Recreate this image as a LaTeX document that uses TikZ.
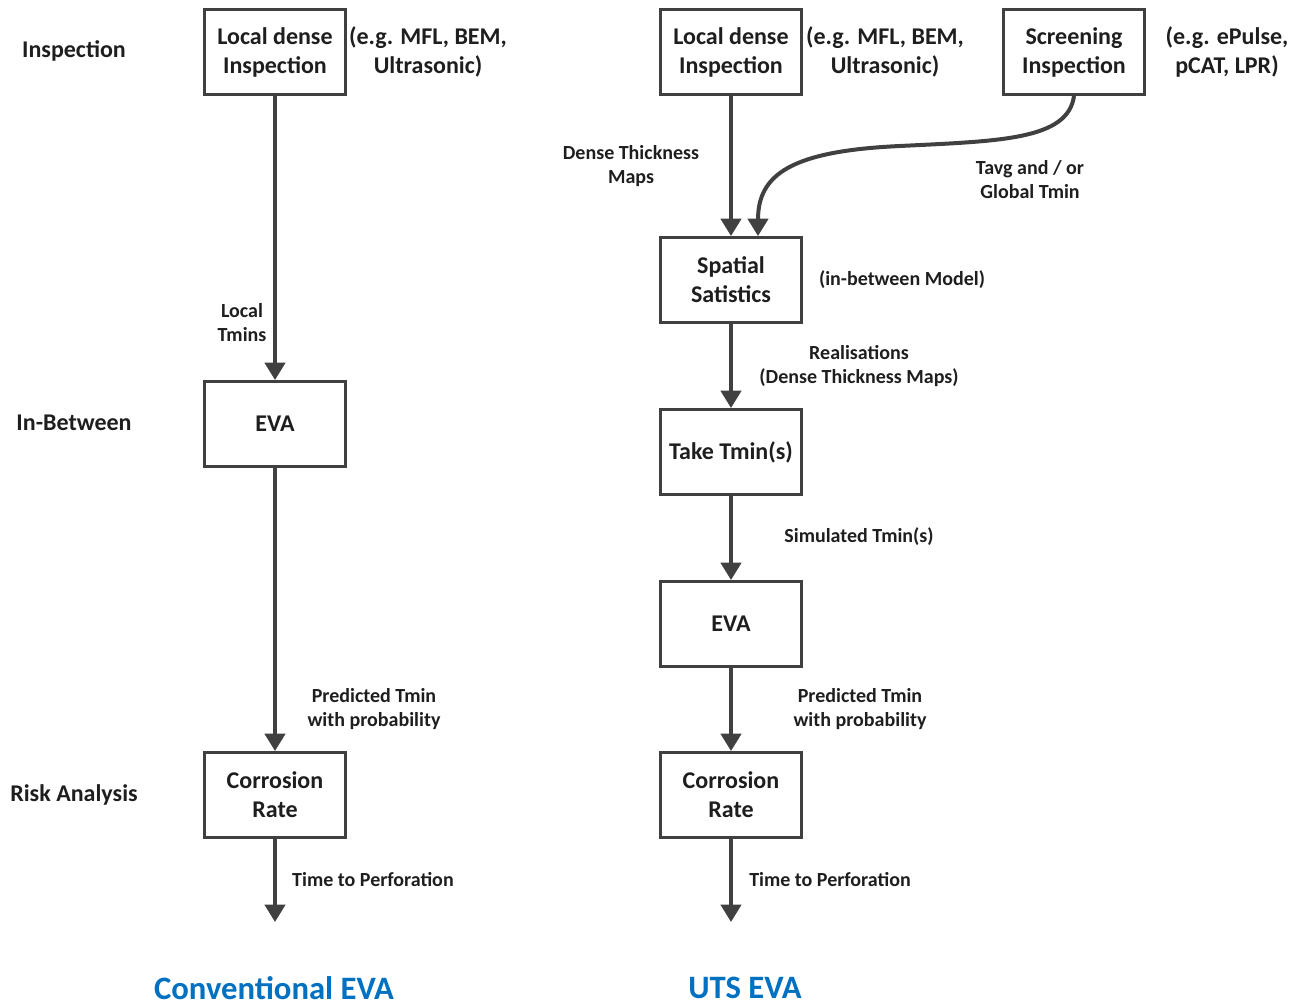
\documentclass[tikz,border=0pt]{standalone}
\usepackage{fontspec}
\setmainfont{Carlito}
\usetikzlibrary{arrows.meta,calc,shadows}
\definecolor{linegray}{HTML}{404040}
\definecolor{titleblue}{HTML}{0070C0}
\definecolor{inkgray}{HTML}{1E1E1E}
\begin{document}
\begin{tikzpicture}[x=0.75pt,y=-0.75pt,
  box/.style={draw=linegray, line width=1.9pt, fill=white,
    minimum width=106pt, minimum height=64pt, align=center, inner sep=0pt,
    font=\fontsize{18}{21.75}\selectfont\bfseries, text=inkgray,
    drop shadow={shadow xshift=1.2pt, shadow yshift=-1.2pt, fill=black!25, opacity=0.6}},
  lbl/.style={align=center, inner sep=0pt, text=inkgray,
    font=\fontsize{15}{18}\selectfont\bfseries},
  note/.style={align=center, inner sep=0pt, text=inkgray,
    font=\fontsize{18}{21.75}\selectfont\bfseries},
  rowlbl/.style={inner sep=0pt, text=inkgray,
    font=\fontsize{18}{20}\selectfont\bfseries},
  title/.style={inner sep=0pt, text=titleblue,
    font=\fontsize{24.5}{28}\selectfont\bfseries},
  flow/.style={draw=linegray, line width=3pt,
    -{Triangle[width=15pt,length=13pt]}}
]
\useasboundingbox (0,0) rectangle (1291,1007);

% row headings
\node[rowlbl] (hInsp) at (74,51) {Inspection};
\node[rowlbl] (hIn) at (74,423) {In-Between};
\node[rowlbl] (hRisk) at (74,795) {Risk Analysis};

% conventional EVA chain
\node[box] (lld) at (275,52) {Local dense\\Inspection};
\node[box] (leva) at (275,424) {EVA};
\node[box] (lcr) at (275,795) {Corrosion\\Rate};
\coordinate (lend) at (275,922);

\node[note] (lnote) at (428,52) {(e.g. MFL, BEM,\\Ultrasonic)};
\node[lbl] (ltmins) at (242,323) {Local\\Tmins};
\node[lbl] (lpred) at (374,709) {Predicted Tmin\\with probability};
\node[lbl] (ltime) at (373,880) {Time to Perforation};

\draw[flow] (lld) -- (leva);
\draw[flow] (leva) -- (lcr);
\draw[flow] (lcr) -- (lend);

% UTS EVA chain
\node[box] (rld) at (731,52) {Local dense\\Inspection};
\node[box] (scr) at (1074,52) {Screening\\Inspection};
\node[box] (ss) at (731,280) {Spatial\\Satistics};
\node[box] (tt) at (731,452) {Take Tmin(s)};
\node[box] (reva) at (731,624) {EVA};
\node[box] (rcr) at (731,795) {Corrosion\\Rate};
\coordinate (rend) at (731,922);
\coordinate (ssin) at ($(ss.north)+(27,0)$);

\node[note] (rnote) at (885,52) {(e.g. MFL, BEM,\\Ultrasonic)};
\node[note] (snote) at (1227,52) {(e.g. ePulse,\\pCAT, LPR)};
\node[lbl] (dtm) at (631,166) {Dense Thickness\\Maps};
\node[lbl] (tavg) at (1030,180) {Tavg and / or\\Global Tmin};
\node[lbl] (ibm) at (902,280) {(in-between Model)};
\node[lbl] (real) at (859,366) {Realisations\\(Dense Thickness Maps)};
\node[lbl] (sim) at (859,537) {Simulated Tmin(s)};
\node[lbl] (rpred) at (860,709) {Predicted Tmin\\with probability};
\node[lbl] (rtime) at (830,880) {Time to Perforation};

\draw[flow] (rld) -- (ss);
\draw[flow] (scr.south) .. controls (1068,140) and (1000,141) .. (900,146)
  .. controls (790,151) and (758,175) .. (ssin);
\draw[flow] (ss) -- (tt);
\draw[flow] (tt) -- (reva);
\draw[flow] (reva) -- (rcr);
\draw[flow] (rcr) -- (rend);

% column titles
\node[title] (tconv) at (274,988) {Conventional EVA};
\node[title] (tuts) at (745,988) {UTS EVA};
\end{tikzpicture}
\end{document}
